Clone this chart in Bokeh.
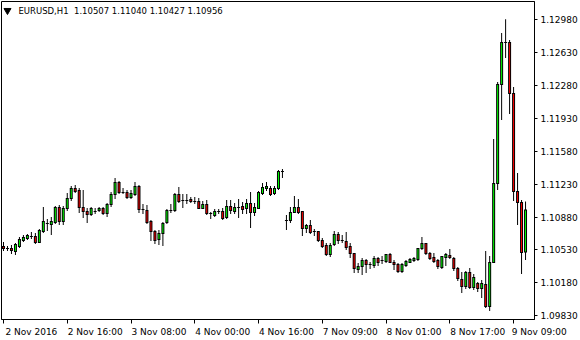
from bokeh.plotting import figure
from bokeh.models import Range1d, FixedTicker, Label, PrintfTickFormatter, ColumnDataSource
from bokeh.embed import file_html
from bokeh.resources import INLINE

symbol = "EURUSD,H1"

x_tick_bars = [0, 16, 32, 48, 64, 80, 96, 112, 128]
x_tick_labels = ["2 Nov 2016", "2 Nov 16:00", "3 Nov 08:00", "4 Nov 00:00", "4 Nov 16:00",
                 "7 Nov 09:00", "8 Nov 01:00", "8 Nov 17:00", "9 Nov 09:00"]
y_ticks = [1.12980, 1.12630, 1.12280, 1.11930, 1.11580, 1.11230, 1.10880, 1.10530, 1.10180, 1.09830]

opens = [1.10566, 1.10545, 1.10545, 1.10513, 1.10566, 1.10630, 1.10651, 1.10673, 1.10673, 1.10609,
         1.10726, 1.10811, 1.10800, 1.10822, 1.10981, 1.10832, 1.10971, 1.11077, 1.11184, 1.11163,
         1.10981, 1.10939, 1.10907, 1.10939, 1.10950, 1.10971, 1.10918, 1.11013, 1.11120, 1.11248,
         1.11141, 1.11141, 1.11088, 1.11120, 1.11205, 1.10960, 1.10950, 1.10832, 1.10726, 1.10641,
         1.10705, 1.10822, 1.10950, 1.10950, 1.11120, 1.11056, 1.11056, 1.11067, 1.11045, 1.11045,
         1.10971, 1.11013, 1.10918, 1.10896, 1.10939, 1.10939, 1.10875, 1.10992, 1.10939, 1.10981,
         1.10992, 1.10971, 1.11024, 1.10928, 1.10971, 1.11131, 1.11184, 1.11184, 1.11131, 1.11184,
         1.11365, 1.10843, 1.10843, 1.10928, 1.10981, 1.10939, 1.10758, 1.10790, 1.10726, 1.10726,
         1.10630, 1.10577, 1.10481, 1.10587, 1.10694, 1.10630, 1.10619, 1.10566, 1.10492, 1.10321,
         1.10353, 1.10417, 1.10374, 1.10364, 1.10438, 1.10417, 1.10406, 1.10481, 1.10396, 1.10374,
         1.10300, 1.10364, 1.10396, 1.10417, 1.10428, 1.10545, 1.10598, 1.10492, 1.10449, 1.10417,
         1.10342, 1.10449, 1.10470, 1.10438, 1.10332, 1.10215, 1.10140, 1.10289, 1.10130, 1.10172,
         1.10119, 1.10161, 1.09927, 1.10396, 1.11237, 1.12291, 1.12739, 1.12739, 1.12196, 1.11152,
         1.11035, 1.10507]
highs = [1.10609, 1.10566, 1.10577, 1.10598, 1.10662, 1.10683, 1.10694, 1.10715, 1.10705, 1.10747,
         1.10981, 1.10854, 1.10875, 1.10992, 1.11003, 1.10992, 1.11131, 1.11205, 1.11216, 1.11184,
         1.11163, 1.10971, 1.10981, 1.10971, 1.10981, 1.10981, 1.11024, 1.11141, 1.11290, 1.11258,
         1.11184, 1.11163, 1.11163, 1.11248, 1.11216, 1.11013, 1.11003, 1.10843, 1.10737, 1.10737,
         1.10822, 1.10960, 1.11013, 1.11131, 1.11194, 1.11120, 1.11120, 1.11088, 1.11088, 1.11077,
         1.11045, 1.11056, 1.10928, 1.10960, 1.10960, 1.10971, 1.11056, 1.11056, 1.11024, 1.11067,
         1.11035, 1.11067, 1.11141, 1.11024, 1.11152, 1.11237, 1.11248, 1.11205, 1.11205, 1.11376,
         1.11386, 1.10896, 1.10981, 1.11099, 1.11067, 1.10939, 1.10800, 1.10843, 1.10747, 1.10726,
         1.10651, 1.10598, 1.10598, 1.10726, 1.10715, 1.10683, 1.10715, 1.10598, 1.10492, 1.10385,
         1.10438, 1.10428, 1.10396, 1.10460, 1.10449, 1.10460, 1.10481, 1.10492, 1.10417, 1.10385,
         1.10385, 1.10417, 1.10438, 1.10449, 1.10545, 1.10662, 1.10598, 1.10502, 1.10492, 1.10428,
         1.10460, 1.10492, 1.10534, 1.10449, 1.10342, 1.10289, 1.10300, 1.10332, 1.10268, 1.10183,
         1.10204, 1.10513, 1.10460, 1.11706, 1.12313, 1.12835, 1.12980, 1.12760, 1.12259, 1.11344,
         1.11056, 1.11040]
lows = [1.10524, 1.10524, 1.10492, 1.10481, 1.10555, 1.10619, 1.10641, 1.10651, 1.10598, 1.10609,
        1.10715, 1.10737, 1.10694, 1.10811, 1.10800, 1.10800, 1.10950, 1.11056, 1.11141, 1.10928,
        1.10875, 1.10822, 1.10896, 1.10918, 1.10939, 1.10907, 1.10886, 1.10992, 1.11077, 1.11131,
        1.11131, 1.11077, 1.11077, 1.11109, 1.10928, 1.10918, 1.10811, 1.10630, 1.10598, 1.10587,
        1.10577, 1.10811, 1.10928, 1.10939, 1.11035, 1.10981, 1.11024, 1.11035, 1.11024, 1.10971,
        1.10971, 1.10907, 1.10864, 1.10886, 1.10918, 1.10854, 1.10864, 1.10918, 1.10918, 1.10875,
        1.10918, 1.10918, 1.10768, 1.10896, 1.10971, 1.11120, 1.11163, 1.11109, 1.11120, 1.11173,
        1.11301, 1.10747, 1.10822, 1.10928, 1.10918, 1.10683, 1.10715, 1.10705, 1.10683, 1.10619,
        1.10555, 1.10470, 1.10460, 1.10577, 1.10598, 1.10609, 1.10534, 1.10449, 1.10289, 1.10289,
        1.10268, 1.10289, 1.10332, 1.10342, 1.10364, 1.10385, 1.10396, 1.10396, 1.10321, 1.10289,
        1.10289, 1.10353, 1.10396, 1.10406, 1.10417, 1.10534, 1.10481, 1.10428, 1.10396, 1.10332,
        1.10332, 1.10364, 1.10438, 1.10311, 1.10204, 1.10076, 1.10119, 1.10119, 1.10108, 1.10087,
        1.10023, 1.09916, 1.09885, 1.10396, 1.11173, 1.11919, 1.12579, 1.11983, 1.11056, 1.10800,
        1.10279, 1.10427]
closes = [1.10545, 1.10545, 1.10524, 1.10587, 1.10641, 1.10662, 1.10683, 1.10673, 1.10609, 1.10737,
          1.10832, 1.10811, 1.10832, 1.10981, 1.10832, 1.10971, 1.11077, 1.11184, 1.11152, 1.10981,
          1.10939, 1.10907, 1.10971, 1.10939, 1.10971, 1.10918, 1.11013, 1.11120, 1.11248, 1.11141,
          1.11141, 1.11088, 1.11131, 1.11205, 1.10960, 1.10960, 1.10822, 1.10726, 1.10630, 1.10705,
          1.10811, 1.10950, 1.10950, 1.11120, 1.11045, 1.11056, 1.11056, 1.11045, 1.11045, 1.10971,
          1.11013, 1.10918, 1.10918, 1.10939, 1.10939, 1.10864, 1.10992, 1.10950, 1.10981, 1.10981,
          1.10960, 1.11024, 1.10928, 1.10981, 1.11141, 1.11194, 1.11205, 1.11120, 1.11184, 1.11365,
          1.11365, 1.10843, 1.10928, 1.10981, 1.10928, 1.10758, 1.10790, 1.10715, 1.10726, 1.10630,
          1.10566, 1.10481, 1.10577, 1.10694, 1.10630, 1.10630, 1.10555, 1.10492, 1.10332, 1.10353,
          1.10417, 1.10374, 1.10374, 1.10438, 1.10396, 1.10417, 1.10481, 1.10396, 1.10374, 1.10300,
          1.10374, 1.10406, 1.10428, 1.10438, 1.10545, 1.10598, 1.10492, 1.10438, 1.10406, 1.10353,
          1.10460, 1.10481, 1.10449, 1.10332, 1.10225, 1.10140, 1.10289, 1.10130, 1.10236, 1.10119,
          1.10172, 1.09927, 1.10396, 1.11237, 1.12291, 1.12739, 1.12739, 1.12196, 1.11152, 1.11035,
          1.10502, 1.10956]

n = len(opens)
xs = list(range(n))

FONT = "DejaVu Sans"
BULL = "#00ff00"
BEAR = "#ff0000"

X_START, X_END = -0.5, 133.25
Y_START, Y_END = 1.09789, 1.13175
FRAME_W, FRAME_H = 535, 318
PX_X = (X_END - X_START) / FRAME_W
PX_Y = (Y_END - Y_START) / FRAME_H
LABEL_SHIFT = 7  # bars: x-axis labels start just right of their tick

p = figure(width=580, height=340, output_backend="svg", toolbar_location=None,
           x_range=Range1d(X_START, X_END), y_range=Range1d(Y_START, Y_END),
           y_axis_location="right", x_axis_location="below",
           min_border_left=1, min_border_right=44, min_border_top=1, min_border_bottom=21,
           background_fill_color="white", border_fill_color="white",
           outline_line_color="black", outline_line_width=1)
p.xgrid.visible = False
p.ygrid.visible = False

# x axis: tick marks as minor ticks at the bars, labels on shifted major ticks
xa = p.xaxis[0]
label_pos = []
label_txt = []
for t, lbl in zip(x_tick_bars, x_tick_labels):
    pos = t + LABEL_SHIFT
    if pos > X_END - 0.1:
        # keep the tick inside the range, push the visible text right with leading spaces
        pos = int(X_END)
        lbl = "\u00a0" * 4 + lbl
    label_pos.append(pos)
    label_txt.append(lbl)
xa.ticker = FixedTicker(ticks=label_pos, minor_ticks=x_tick_bars)
xa.major_label_overrides = {pos: lbl for pos, lbl in zip(label_pos, label_txt)}
xa.major_label_text_font = FONT
xa.major_label_text_font_size = "9px"
xa.major_label_text_color = "black"
xa.major_label_standoff = 3
xa.major_tick_out = 0
xa.major_tick_in = 0
xa.minor_tick_out = 4
xa.minor_tick_in = 0
xa.minor_tick_line_color = "black"
xa.axis_line_color = "black"

ya = p.yaxis[0]
ya.ticker = FixedTicker(ticks=y_ticks)
ya.formatter = PrintfTickFormatter(format="%.5f")
ya.major_label_text_font = FONT
ya.major_label_text_font_size = "9px"
ya.major_label_text_color = "black"
ya.major_tick_out = 3
ya.major_tick_in = 0
ya.minor_tick_out = 0
ya.minor_tick_in = 0
ya.major_label_standoff = 3
ya.axis_line_color = "black"
ya.major_tick_line_color = "black"

# wicks (1 px filled bars)
wick_src = ColumnDataSource(dict(x=xs, top=[h + PX_Y / 2 for h in highs], bottom=[l - PX_Y / 2 for l in lows]))
p.vbar(x="x", width=PX_X, top="top", bottom="bottom", source=wick_src,
       fill_color="black", line_color=None)

bull_i = [i for i in xs if closes[i] > opens[i]]
bear_i = [i for i in xs if closes[i] < opens[i]]
doji_i = [i for i in xs if closes[i] == opens[i]]

def body_sources(idx, top_vals, bot_vals):
    outer = ColumnDataSource(dict(x=idx, top=[t + PX_Y / 2 for t in top_vals],
                                  bottom=[b - PX_Y / 2 for b in bot_vals]))
    inner = ColumnDataSource(dict(x=idx, top=[t - PX_Y / 2 for t in top_vals],
                                  bottom=[min(b + PX_Y / 2, t - PX_Y / 2) for t, b in zip(top_vals, bot_vals)]))
    return outer, inner

bo, bi = body_sources(bull_i, [closes[i] for i in bull_i], [opens[i] for i in bull_i])
ro, ri = body_sources(bear_i, [opens[i] for i in bear_i], [closes[i] for i in bear_i])

for outer, inner, col in ((bo, bi, BULL), (ro, ri, BEAR)):
    p.vbar(x="x", width=3 * PX_X, top="top", bottom="bottom", source=outer,
           fill_color="black", line_color=None)
    p.vbar(x="x", width=PX_X, top="top", bottom="bottom", source=inner,
           fill_color=col, line_color=None)

doji = ColumnDataSource(dict(x=doji_i, top=[opens[i] + PX_Y / 2 for i in doji_i],
                             bottom=[opens[i] - PX_Y / 2 for i in doji_i]))
p.vbar(x="x", width=3 * PX_X, top="top", bottom="bottom", source=doji,
       fill_color="black", line_color=None)

# header
header = "%s  %.5f %.5f %.5f %.5f" % (symbol, opens[-1], highs[-1], lows[-1], closes[-1])
p.add_layout(Label(x=X_START + 17 * PX_X, y=Y_END - 9 * PX_Y, text=header.replace("  ", "\u00a0 "),
                   text_align="left", text_baseline="middle",
                   text_font=FONT, text_font_size="8.5px", text_color="black"))
p.scatter(x=[X_START + 6 * PX_X], y=[Y_END - 9 * PX_Y], marker="inverted_triangle", size=7,
          fill_color="black", line_color="black")

# current price tag
p.add_layout(Label(x=X_END, y=closes[-1], x_offset=1, text="%.5f" % closes[-1],
                   text_align="left", text_baseline="middle",
                   text_font=FONT, text_font_size="9px", text_color="white",
                   background_fill_color="black", padding=2))

open("out.html", "w").write(file_html(p, INLINE))
